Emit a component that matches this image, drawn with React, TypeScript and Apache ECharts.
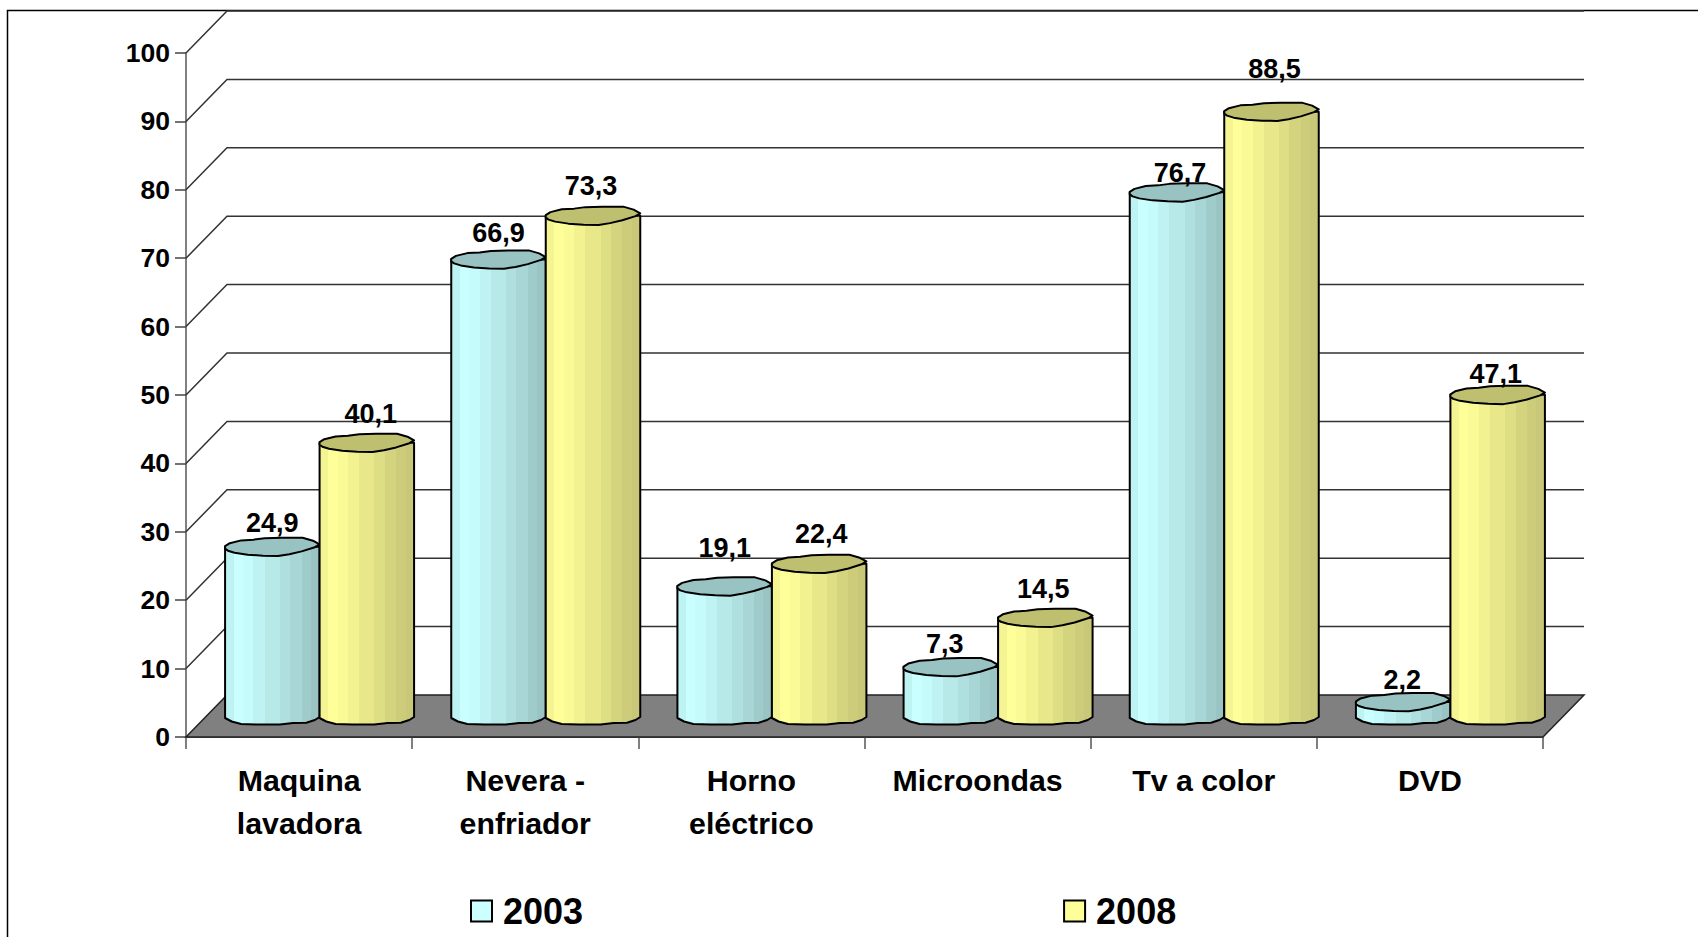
import React, { useEffect, useRef } from "react";
import * as echarts from "echarts";

const categories = ["Maquina\nlavadora", "Nevera -\nenfriador", "Horno\neléctrico", "Microondas", "Tv a color", "DVD"];
const values2003 = [24.9, 66.9, 19.1, 7.3, 76.7, 2.2];
const values2008 = [40.1, 73.3, 22.4, 14.5, 88.5, 47.1];
const yTicks = [0, 10, 20, 30, 40, 50, 60, 70, 80, 90, 100];

// label placement relative to the top of each cylinder
const lift2003 = [24, 26, 38, 23, 19, 22];
const lift2008 = [29, 30, 30, 29, 43, 21];
const shift2003 = [0, 0, 0, -6, 3, -1];
const shift2008 = [4, -2, 2, -2, 3, -2];

const FONT = "'Liberation Sans', Arial, sans-serif";
const DEPTH_X = 41;
const DEPTH_Y = 42;
const BAR_W = 94.5;
const INK = "#000000";

// faceted outline of a cylinder's cap and foot: [fraction of width, px from the centre line]
const capOutline = [[0, -0.5], [0.05, -3.5], [0.17, -6.3], [0.3, -7], [0.42, -8.5], [0.6, -9], [0.82, -9], [0.93, -6], [1, -2.3], [0.95, 0.5], [0.81, 4.7], [0.68, 7.5], [0.56, 9.3], [0.4, 9], [0.24, 8], [0.1, 6], [0.03, 4], [0, 2]];
const footOutline = [[0, 1], [0.07, 4.5], [0.17, 7], [0.35, 7.5], [0.58, 7.5], [0.72, 6], [0.86, 5.7], [0.95, 3], [1, 0]];

const bands = (cols: string[], edges: number[]) => {
  const out: { offset: number; color: string }[] = [];
  cols.forEach((color, i) => {
    out.push({ offset: edges[i], color });
    out.push({ offset: edges[i + 1], color });
  });
  return out;
};
const bandEdges = [0, 0.09, 0.19, 0.3, 0.42, 0.58, 0.69, 0.81, 0.91, 1];
const cyanBands = bands(["#BDF3F3", "#CAFFFF", "#C5FBFB", "#BFF3F3", "#B8E9E9", "#B0DFDF", "#A8D5D5", "#A0CBCB", "#9AC3C3"], bandEdges);
const yellowBands = bands(["#F4F492", "#FFFF99", "#FAFA96", "#F2F291", "#E8E88B", "#DEDE85", "#D4D47F", "#CCCC7B", "#C8C878"], bandEdges);

const cylinderSeries = (
  name: string,
  values: number[],
  seriesShift: number,
  face: { offset: number; color: string }[],
  capColor: string,
  legendColor: string,
  lift: number[],
  shift: number[],
) => ({
  type: "custom",
  name,
  coordinateSystem: "cartesian2d",
  z: 5,
  itemStyle: { color: legendColor },
  encode: { x: 0, y: 1 },
  data: values.map((v, i) => [i, v]),
  renderItem: (_p: any, api: any) => {
    const cat = api.value(0);
    const val = api.value(1);
    const base = api.coord([cat, 0]);
    const top = api.coord([cat, val]);
    const left = base[0] + DEPTH_X / 2 + seriesShift;
    const baseY = base[1] - DEPTH_Y / 2 + 1;
    const topY = top[1] - DEPTH_Y / 2 + 1;
    const stroke = { stroke: INK, lineWidth: 2, lineJoin: "round" };
    const body = [
      [left, topY],
      ...footOutline.map(([u, d]) => [left + u * BAR_W, baseY + d]),
      [left + BAR_W, topY],
    ];
    const cap = capOutline.map(([u, d]) => [left + u * BAR_W, topY + d]);
    return {
      type: "group",
      children: [
        {
          type: "polygon",
          shape: { points: body },
          style: { fill: new echarts.graphic.LinearGradient(0, 0, 1, 0, face), ...stroke },
        },
        { type: "polygon", shape: { points: cap }, style: { fill: capColor, ...stroke } },
        {
          type: "text",
          z2: 50,
          style: {
            x: left + BAR_W / 2 + shift[cat],
            y: topY - lift[cat],
            text: String(val).replace(".", ","),
            align: "center",
            verticalAlign: "middle",
            fill: INK,
            font: `bold 27px ${FONT}`,
          },
        },
      ],
    };
  },
});

const wallSeries = {
  type: "custom",
  coordinateSystem: "cartesian2d",
  z: 3,
  silent: true,
  encode: { x: 0, y: 1 },
  legendHoverLink: false,
  data: yTicks.map((t) => [0, t]),
  renderItem: (params: any, api: any) => {
    const tick = api.value(1);
    const y = api.coord([0, tick])[1];
    const x0 = params.coordSys.x;
    const x1 = x0 + params.coordSys.width;
    if (tick === 0) {
      return {
        type: "polygon",
        shape: { points: [[x0, y], [x0 + DEPTH_X, y - DEPTH_Y], [x1 + DEPTH_X, y - DEPTH_Y], [x1, y]] },
        style: { fill: "#808080", stroke: "#222222", lineWidth: 1.5 },
      };
    }
    return {
      type: "polyline",
      shape: { points: [[x0, y], [x0 + DEPTH_X, y - DEPTH_Y], [x1 + DEPTH_X, y - DEPTH_Y]] },
      style: { fill: "none", stroke: "#333333", lineWidth: 1.5 },
    };
  },
};

export default function App() {
  const ref = useRef<HTMLDivElement>(null);
  useEffect(() => {
    document.body.style.margin = "0";
    const chart = echarts.init(ref.current!, undefined, { renderer: "svg" });
    chart.setOption({
      animation: false,
      backgroundColor: "#FFFFFF",
      grid: { left: 186, right: 155, top: 53, bottom: 200, containLabel: false },
      xAxis: {
        type: "category",
        data: categories,
        axisLine: { show: true, lineStyle: { color: "#222222", width: 1.5 } },
        axisTick: { show: true, length: 12, alignWithLabel: false, interval: 0, lineStyle: { color: "#808080", width: 2 } },
        axisLabel: {
          interval: 0,
          margin: 22,
          color: INK,
          fontFamily: FONT,
          fontWeight: "bold",
          fontSize: 30.3,
          lineHeight: 43,
        },
      },
      yAxis: {
        type: "value",
        min: 0,
        max: 100,
        interval: 10,
        splitLine: { show: false },
        axisLine: { show: true, lineStyle: { color: "#808080", width: 2 } },
        axisTick: { show: true, length: 11, lineStyle: { color: "#444444", width: 1.5 } },
        axisLabel: { margin: 16, color: INK, fontFamily: FONT, fontWeight: "bold", fontSize: 26.5, padding: [2, 0, 0, 0] },
      },
      legend: {
        left: 470,
        top: 893,
        padding: 0,
        icon: "rect",
        itemWidth: 21,
        itemHeight: 21,
        itemGap: 480,
        data: ["2003", "2008"],
        itemStyle: { borderColor: "#000000", borderWidth: 2 },
        textStyle: { color: INK, fontFamily: FONT, fontWeight: "bold", fontSize: 36, padding: [0, 0, 0, 6] },
      },
      graphic: [
        {
          type: "polyline",
          silent: true,
          shape: { points: [[7.5, 937], [7.5, 10.5], [1698, 10.5]] },
          style: { fill: "none", stroke: "#000000", lineWidth: 1.5 },
        },
      ],
      series: [
        wallSeries,
        cylinderSeries("2003", values2003, -BAR_W, cyanBands, "#99C2C2", "#CCFFFF", lift2003, shift2003),
        cylinderSeries("2008", values2008, 0, yellowBands, "#BFBF70", "#FFFF99", lift2008, shift2008),
      ],
    });
    return () => chart.dispose();
  }, []);
  return <div ref={ref} style={{ position: "absolute", left: 0, top: 0, width: 1698, height: 937 }} />;
}
